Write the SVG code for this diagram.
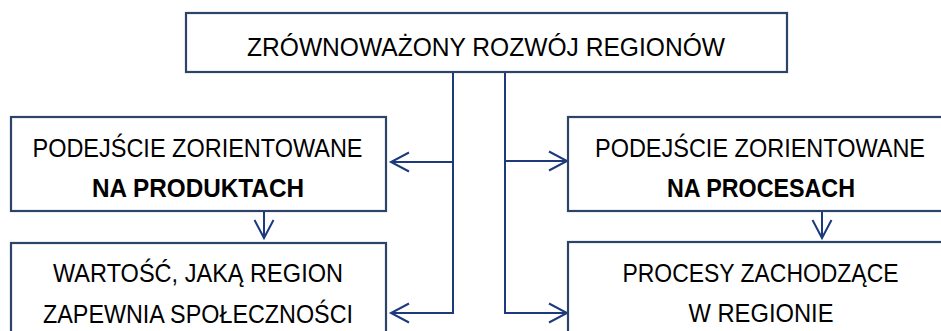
<svg xmlns="http://www.w3.org/2000/svg" width="941" height="331" viewBox="0 0 941 331">
<defs>
<style>
.box{fill:#ffffff;stroke:#2B4468;stroke-width:2.2}
.t{font-family:"Liberation Sans",Arial,sans-serif;font-size:26px;fill:#000;text-anchor:middle}
.b{font-weight:bold}
.c{fill:none;stroke:#1C3A7C;stroke-width:2}
</style>
<marker id="arr" markerUnits="userSpaceOnUse" markerWidth="22" markerHeight="24" refX="19" refY="11" orient="auto" overflow="visible">
<path d="M1,1.5 L19,11 L1,20.5" fill="none" stroke="#1C3A7C" stroke-width="2"/>
</marker>
</defs>
<rect width="941" height="331" fill="#ffffff"/>
<g id="connectors">
<path class="c" d="M453,72 V313 H391" marker-end="url(#arr)"/>
<path class="c" d="M453,162 H391" marker-end="url(#arr)"/>
<path class="c" d="M505,72 V313 H567" marker-end="url(#arr)"/>
<path class="c" d="M505,161 H567" marker-end="url(#arr)"/>
<path class="c" d="M264,211 V238" marker-end="url(#arr)"/>
<path class="c" d="M822,211 V238" marker-end="url(#arr)"/>
</g>
<g id="node-top">
<rect class="box" x="186" y="13" width="601" height="59"/>
<text class="t" x="486" y="56" textLength="478" lengthAdjust="spacingAndGlyphs">ZRÓWNOWAŻONY ROZWÓJ REGIONÓW</text>
</g>
<g id="node-products">
<rect class="box" x="11" y="117" width="375" height="94"/>
<text class="t" x="197.5" y="157" textLength="330" lengthAdjust="spacingAndGlyphs">PODEJŚCIE ZORIENTOWANE</text>
<text class="t b" x="198" y="197" textLength="212" lengthAdjust="spacingAndGlyphs">NA PRODUKTACH</text>
</g>
<g id="node-value">
<rect class="box" x="11" y="243" width="375" height="110"/>
<text class="t" x="198" y="282" textLength="290" lengthAdjust="spacingAndGlyphs">WARTOŚĆ, JAKĄ REGION</text>
<text class="t" x="198" y="323" textLength="310" lengthAdjust="spacingAndGlyphs">ZAPEWNIA SPOŁECZNOŚCI</text>
</g>
<g id="node-processes">
<rect class="box" x="568" y="117" width="385" height="94"/>
<text class="t" x="760" y="157" textLength="330" lengthAdjust="spacingAndGlyphs">PODEJŚCIE ZORIENTOWANE</text>
<text class="t b" x="761" y="197" textLength="188" lengthAdjust="spacingAndGlyphs">NA PROCESACH</text>
</g>
<g id="node-region">
<rect class="box" x="568" y="242" width="385" height="110"/>
<text class="t" x="760.5" y="282" textLength="276" lengthAdjust="spacingAndGlyphs">PROCESY ZACHODZĄCE</text>
<text class="t" x="761" y="322" textLength="145" lengthAdjust="spacingAndGlyphs">W REGIONIE</text>
</g>
</svg>
